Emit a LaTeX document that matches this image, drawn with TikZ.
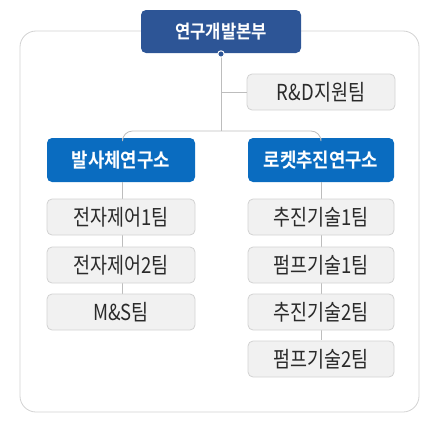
\documentclass[tikz,border=0pt]{standalone}
\usepackage{fontspec}
\setmainfont{Noto Sans CJK KR}
\newfontfamily\gfont[FakeStretch=0.84]{Noto Sans CJK KR}
\newfontfamily\bfont[FakeStretch=0.9,BoldFont={Noto Sans CJK KR Bold}]{Noto Sans CJK KR}
\definecolor{topblue}{HTML}{2D5596}
\definecolor{labblue}{HTML}{0A6CC0}
\definecolor{teamfill}{HTML}{F1F1F1}
\definecolor{teamdraw}{HTML}{D2D2D2}
\definecolor{linec}{HTML}{BDBDBD}
\definecolor{txt}{HTML}{2A2A2A}
\begin{document}
\begin{tikzpicture}[x=1pt,y=-1pt,
  headbox/.style={fill=topblue,rounded corners=5pt},
  labbox/.style={fill=labblue,rounded corners=5pt},
  teambox/.style={fill=teamfill,draw=teamdraw,line width=0.8pt,rounded corners=5pt},
  headtext/.style={text=white,font=\bfont\bfseries\fontsize{18.5}{18.5}\selectfont},
  labtext/.style={text=white,font=\bfont\bfseries\fontsize{19.8}{19.8}\selectfont},
  teamtext/.style={text=txt,font=\gfont\fontsize{22}{22}\selectfont},
  conn/.style={draw=linec,line width=0.8pt}]
\useasboundingbox (0,0) rectangle (439,431);
\draw[draw=teamdraw,line width=0.8pt,rounded corners=16pt] (20,31) rectangle (419,412);
\path[headbox] (141,10) rectangle (301,53);
\node[headtext] (head) at (221,31.5) {연구개발본부};
\coordinate (hb) at (221,54);
\path[teambox] (247,74) rectangle (395,110);
\node[teamtext] (rnd) at (321,92) {R\&D지원팀};
\coordinate (rndw) at (247,92);
\path[labbox] (47,138) rectangle (195,182);
\node[labtext] (lab1) at (121,160) {발사체연구소};
\path[labbox] (248,138) rectangle (394,182);
\node[labtext] (lab2) at (321,160) {로켓추진연구소};
\coordinate (j) at (221,92);
\coordinate (b) at (221,131);
\draw[conn] (hb) -- (b);
\draw[conn] (j) -- (rndw);
\draw[conn,rounded corners=10pt] (122.5,138) |- (b) -| (321,138);
\draw[conn] (122.5,182) -- (122.5,294);
\draw[conn] (321,182) -- (321,340);
\foreach \y/\t/\n in {199/전자제어1팀/l1,247/전자제어2팀/l2,294/M\&S팀/l3}{
  \path[teambox] (47,\y) rectangle (195,\y+36);
  \node[teamtext] (\n) at (121,\y+18) {\t};
}
\foreach \y/\t/\n in {199/추진기술1팀/r1,247/펌프기술1팀/r2,294/추진기술2팀/r3,341/펌프기술2팀/r4}{
  \path[teambox] (248,\y) rectangle (394,\y+36);
  \node[teamtext] (\n) at (321,\y+18) {\t};
}
\fill[topblue,draw=white,line width=1pt] (hb) circle (3.2pt);
\end{tikzpicture}
\end{document}
